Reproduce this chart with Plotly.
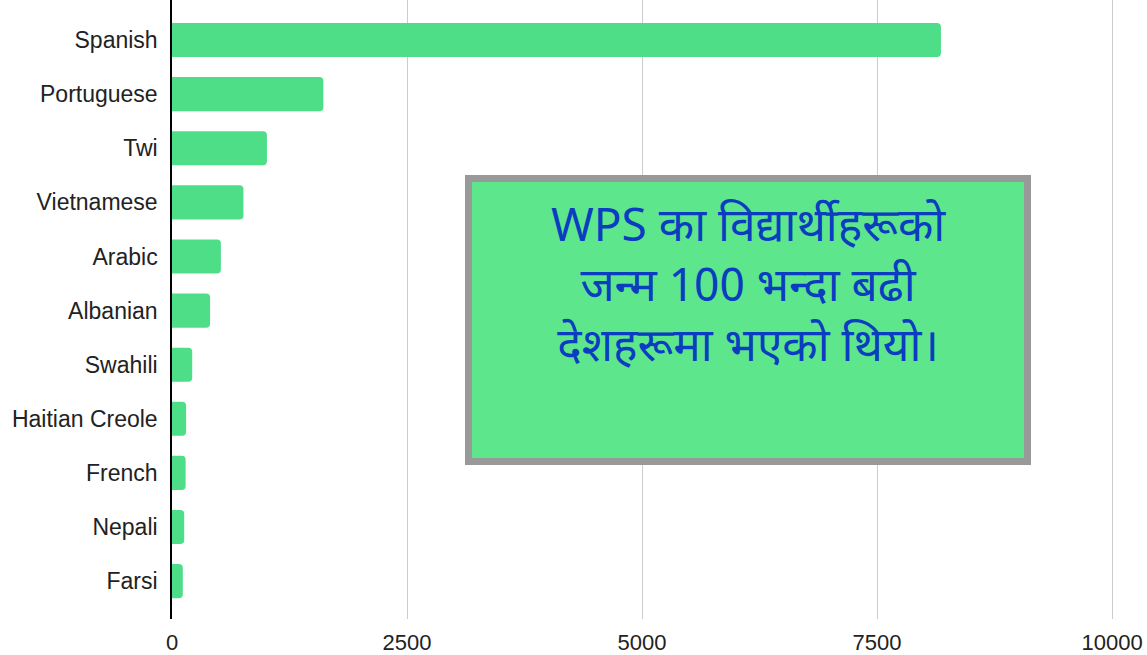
import plotly.graph_objects as go

languages = ["Spanish", "Portuguese", "Twi", "Vietnamese", "Arabic", "Albanian",
             "Swahili", "Haitian Creole", "French", "Nepali", "Farsi"]
students = [8180, 1610, 1010, 760, 520, 405, 215, 150, 145, 130, 115]
tick_vals = [0, 2500, 5000, 7500, 10000]
tick_text = ["0", "2500", "5000", "7500", "10000"]
note_lines = ["WPS का विद्यार्थीहरूको", "जन्म 100 भन्दा बढी", "देशहरूमा भएको थियो।"]

fig = go.Figure(go.Bar(
    x=students, y=languages, orientation="h",
    marker=dict(color="#4fde88", line=dict(width=0)),
    marker_cornerradius=4,
))

W, H = 1147, 655
L, R, T, B = 172, 0, 0, 36
pw, ph = W - L - R, H - T - B

def px_x(x):
    return (x - L) / pw

def px_y(y):
    return 1 - (y - T) / ph

fig.update_layout(
    width=W, height=H,
    margin=dict(l=L, r=R, t=T, b=B),
    paper_bgcolor="white", plot_bgcolor="white",
    bargap=0.37,
    showlegend=False,
    font=dict(family="Liberation Sans, Arial, sans-serif", size=20, color="#222222"),
    xaxis=dict(range=[0, 10372], tickvals=tick_vals, ticktext=tick_text, showgrid=True,
               gridcolor="#cccccc", gridwidth=1, zeroline=False,
               showline=False, ticks="", ticklabelstandoff=8,
               tickfont=dict(size=22, color="#222222")),
    yaxis=dict(range=[10.70, -0.74], showline=True, linecolor="#000000",
               linewidth=1.5, ticks="", showgrid=False, ticklabelstandoff=8,
               tickfont=dict(size=23, color="#222222")),
    shapes=[dict(type="rect", xref="paper", yref="paper",
                 x0=px_x(468.5), x1=px_x(1027.5), y0=px_y(461.5), y1=px_y(178.5),
                 line=dict(color="#999999", width=7), fillcolor="#5ee68c", layer="above")],
    annotations=[dict(xref="paper", yref="paper", x=px_x(748), y=px_y(289),
                      xanchor="center", yanchor="middle", showarrow=False, align="center",
                      text="<br>".join(note_lines),
                      font=dict(family="Noto Sans Devanagari, Noto Sans, sans-serif",
                                size=46, color="#0a3dc0"))],
)

fig.write_html("out.html")
